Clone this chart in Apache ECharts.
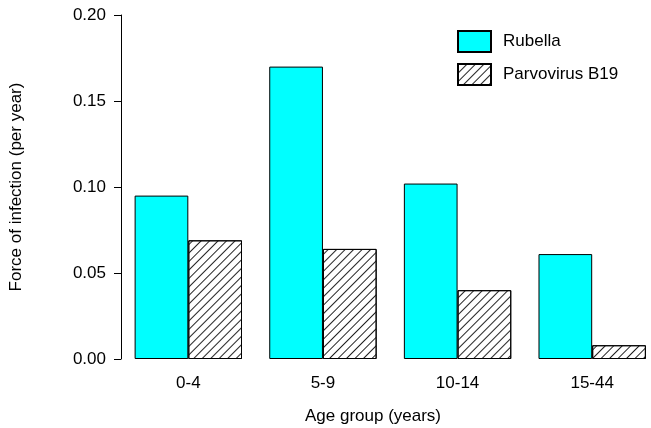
<!DOCTYPE html>
<html>
<head>
<meta charset="utf-8">
<script src="https://cdn.jsdelivr.net/npm/echarts@6/dist/echarts.min.js"></script>
<style>
  html, body { margin: 0; padding: 0; background: #fff; overflow: hidden; }
  /* the canvas runs a few pixels past the window so the last group sits flush at the edge */
  #chart { width: 660px; height: 428px; }
</style>
</head>
<body>
<div id="chart"></div>
<script>
// Age groups and estimated force of infection (per year)
const ageGroups = ['0-4', '5-9', '10-14', '15-44'];
const rubella = [0.095, 0.170, 0.102, 0.061];
const parvovirus = [0.069, 0.064, 0.040, 0.008];
const yTicks = [0.00, 0.05, 0.10, 0.15, 0.20];

const FONT = '"Liberation Sans", Arial, sans-serif';
const FS = 17;

const chart = echarts.init(document.getElementById('chart'), null, { renderer: 'canvas' });

chart.setOption({
  animation: false,
  backgroundColor: '#ffffff',
  textStyle: { fontFamily: FONT, color: '#000' },
  grid: { left: 121, width: 538.5, top: 15, height: 344, containLabel: false },
  legend: {
    orient: 'vertical',
    left: 457,
    top: 30,
    padding: 0,
    itemWidth: 33,
    itemHeight: 21,
    itemGap: 10,
    icon: 'rect',
    textStyle: { fontFamily: FONT, fontSize: FS, color: '#000', padding: [0, 0, 0, 7] },
    data: ['Rubella', 'Parvovirus B19']
  },
  xAxis: {
    type: 'category',
    data: ageGroups,
    axisLine: { show: false },
    axisTick: { show: false },
    axisLabel: { margin: 16, fontFamily: FONT, fontSize: FS, color: '#000' },
    splitLine: { show: false }
  },
  yAxis: {
    type: 'value',
    min: yTicks[0],
    max: yTicks[yTicks.length - 1],
    interval: yTicks[1] - yTicks[0],
    axisLine: { show: true, lineStyle: { color: '#000', width: 1 } },
    axisTick: { show: true, length: 7, lineStyle: { color: '#000' } },
    axisLabel: {
      margin: 15, fontFamily: FONT, fontSize: FS, color: '#000',
      formatter: v => v.toFixed(2)
    },
    splitLine: { show: false }
  },
  graphic: [
    {
      type: 'text',
      x: 373, y: 416,
      style: {
        text: 'Age group (years)', font: FS + 'px ' + FONT, fill: '#000',
        textAlign: 'center', textVerticalAlign: 'middle'
      }
    },
    {
      type: 'text',
      x: 16, y: 187,
      rotation: Math.PI / 2,
      style: {
        text: 'Force of infection (per year)', font: FS + 'px ' + FONT, fill: '#000',
        textAlign: 'center', textVerticalAlign: 'middle'
      }
    }
  ],
  series: [
    {
      name: 'Rubella',
      type: 'bar',
      data: rubella,
      barWidth: 53.7,
      barGap: '0%',
      itemStyle: { color: '#00ffff', borderColor: '#000', borderWidth: 1 }
    },
    {
      name: 'Parvovirus B19',
      type: 'bar',
      data: parvovirus,
      barWidth: 53.7,
      barGap: '0%',
      itemStyle: {
        color: '#ffffff', borderColor: '#000', borderWidth: 1,
        decal: {
          symbol: 'rect',
          color: '#222',
          dashArrayX: [1, 0],
          dashArrayY: [1, 4.4],
          rotation: -Math.PI / 4,
          symbolSize: 1
        }
      }
    }
  ]
});
</script>
</body>
</html>
